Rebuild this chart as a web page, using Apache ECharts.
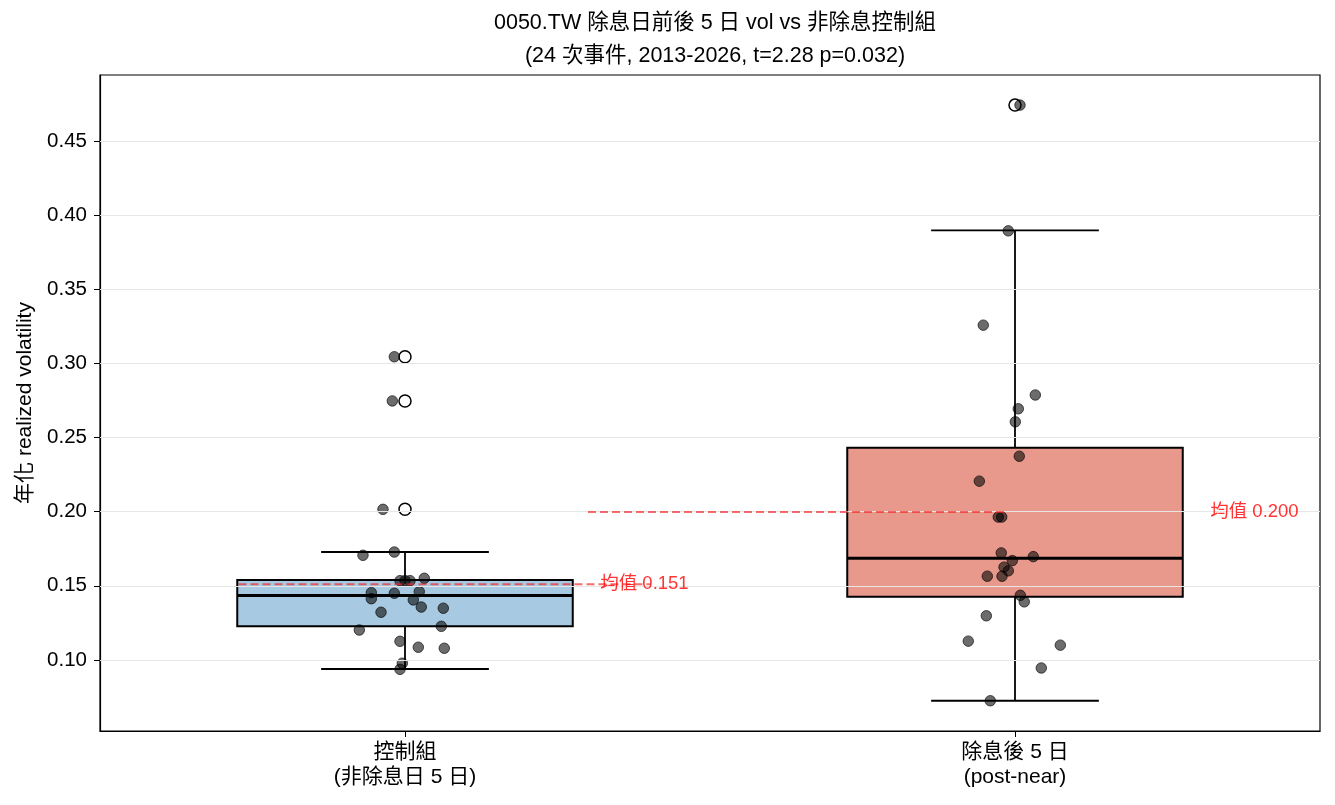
<!DOCTYPE html>
<html>
<head>
<meta charset="utf-8">
<script src="https://cdn.jsdelivr.net/npm/echarts@6/dist/echarts.min.js"></script>
<style>
  html, body { margin: 0; padding: 0; background: #fff; }
  #chart { width: 1335px; height: 805px; }
</style>
</head>
<body>
<div id="chart"></div>
<script>
// groups shown on the x axis
var groups = ['控制組\n(非除息日 5 日)', '除息後 5 日\n(post-near)'];
var groupPos = [1, 2];

// realized vol per event with the jitter x used for the dots
var controlVol = [0.3045, 0.2747, 0.2016, 0.1706, 0.1728, 0.1535, 0.1535, 0.1535, 0.1551, 0.1454, 0.1450, 0.1461,
                  0.1413, 0.1405, 0.1322, 0.1357, 0.1349, 0.1227, 0.1202, 0.1126, 0.1086, 0.1079, 0.0978, 0.0937];
var controlX = [0.9825, 0.9792, 0.9639, 0.9311, 0.9825, 0.9918, 1.0, 1.0082, 1.0316, 0.9448, 0.9825, 1.0234,
                0.9448, 1.0136, 0.9607, 1.0267, 1.0628, 1.0595, 0.9251, 0.9918, 1.0218, 1.0644, 0.9956, 0.9918];

var postVol = [0.4742, 0.3894, 0.3258, 0.2787, 0.2694, 0.2606, 0.2374, 0.2206, 0.1964, 0.1964, 0.1722, 0.1670,
               0.1697, 0.1626, 0.1601, 0.1565, 0.1565, 0.1436, 0.1392, 0.1298, 0.1127, 0.1100, 0.0946, 0.0725];
var postX = [2.0082, 1.989, 1.948, 2.0333, 2.0054, 2.0005, 2.007, 1.9415, 1.9726, 1.9782, 1.9775, 1.9956,
             2.03, 1.982, 1.989, 1.9546, 1.9787, 2.0087, 2.0152, 1.953, 1.9234, 2.0743, 2.0431, 1.9595];

// box stats: [lower whisker, Q1, median, Q3, upper whisker]
var controlBox = [0.0939, 0.1227, 0.1434, 0.1540, 0.1728];
var postBox = [0.0725, 0.1427, 0.1686, 0.2432, 0.3897];

// fliers
var controlOutliers = [0.3045, 0.2747, 0.2016];
var postOutliers = [0.4742];

var boxColors = ['#a7c9e1', '#e8998c'];

// y tick labels
var yTicks = [0.10, 0.15, 0.20, 0.25, 0.30, 0.35, 0.40, 0.45];

function mean(arr) {
    var s = 0;
    arr.forEach(function (v) { s += v; });
    return s / arr.length;
}

var means = [mean(controlVol), mean(postVol)];
// extents of the dashed mean lines, in x data units
var meanSpans = [[0.727, 1.402], [1.30, 1.987]];

var font = '"Liberation Sans", Arial, "Noto Sans CJK TC", sans-serif';

var chart = echarts.init(document.getElementById('chart'));

var boxData = [
    [groupPos[0]].concat(controlBox, [0]),
    [groupPos[1]].concat(postBox, [1])
];

var meanLine = {
    type: 'line',
    xAxisIndex: 1,
    z: 5,
    symbol: 'none',
    silent: true,
    lineStyle: { color: 'rgba(240,40,40,0.68)', width: 2, type: [8, 4] }
};

var option = {
    backgroundColor: '#fff',
    animation: false,
    textStyle: { fontFamily: font },
    title: {
        text: '0050.TW 除息日前後 5 日 vol vs 非除息控制組\n(24 次事件, 2013-2026, t=2.28 p=0.032)',
        left: 710,
        top: 2,
        textAlign: 'center',
        textStyle: {
            fontFamily: font,
            fontSize: 21.5,
            fontWeight: 'normal',
            color: '#000',
            lineHeight: 33
        }
    },
    grid: {
        left: 100,
        right: 15,
        top: 75,
        bottom: 74,
        show: true,
        borderColor: '#000',
        borderWidth: 1.2
    },
    xAxis: [
        {
            type: 'category',
            data: groups,
            boundaryGap: true,
            axisLine: { show: true, lineStyle: { color: '#000', width: 1.2 } },
            axisTick: { show: true, alignWithLabel: true, length: 6, lineStyle: { color: '#000' } },
            axisLabel: { color: '#000', fontSize: 21, lineHeight: 25, margin: 9, fontFamily: font },
            splitLine: { show: false }
        },
        {
            type: 'value',
            min: 0.5,
            max: 2.5,
            show: false
        }
    ],
    yAxis: {
        type: 'value',
        min: 0.0521,
        max: 0.4945,
        name: '年化 realized volatility',
        nameLocation: 'middle',
        nameGap: 64,
        nameRotate: 90,
        nameTextStyle: { color: '#000', fontSize: 21, fontFamily: font },
        axisLine: { show: true, lineStyle: { color: '#000', width: 1.2 } },
        axisTick: { show: true, length: 6, customValues: yTicks, lineStyle: { color: '#000' } },
        axisLabel: {
            color: '#000',
            fontSize: 20.5,
            margin: 13,
            fontFamily: font,
            customValues: yTicks,
            formatter: function (v) { return v.toFixed(2); }
        },
        splitLine: { show: false }
    },
    series: [
        {
            // horizontal grid lines at the y ticks
            name: 'grid',
            type: 'line',
            xAxisIndex: 1,
            z: 1,
            data: [],
            markLine: {
                silent: true,
                symbol: ['none', 'none'],
                label: { show: false },
                lineStyle: { color: '#e6e6e6', width: 1.2, type: 'solid' },
                data: yTicks.map(function (v) { return { yAxis: v }; })
            }
        },
        {
            name: 'box',
            type: 'custom',
            xAxisIndex: 1,
            z: 2,
            data: boxData,
            renderItem: function (params, api) {
                var pos = api.value(0);
                var lo = api.value(1), q1 = api.value(2), med = api.value(3), q3 = api.value(4), hi = api.value(5);
                var c = boxColors[api.value(6)];
                var hw = 0.275, cw = 0.1375;
                var tl = api.coord([pos - hw, q3]);
                var br = api.coord([pos + hw, q1]);
                var p = function (x, y) { return api.coord([x, y]); };
                var ln = function (a, b, w) {
                    return {
                        type: 'line',
                        shape: { x1: a[0], y1: a[1], x2: b[0], y2: b[1] },
                        style: { stroke: '#000', lineWidth: w || 1.8 }
                    };
                };
                return {
                    type: 'group',
                    children: [
                        ln(p(pos, q1), p(pos, lo)),
                        ln(p(pos, q3), p(pos, hi)),
                        ln(p(pos - cw, lo), p(pos + cw, lo)),
                        ln(p(pos - cw, hi), p(pos + cw, hi)),
                        {
                            type: 'rect',
                            shape: { x: tl[0], y: tl[1], width: br[0] - tl[0], height: br[1] - tl[1] },
                            style: { fill: c, stroke: '#000', lineWidth: 2 }
                        },
                        ln(p(pos - hw, med), p(pos + hw, med), 3)
                    ]
                };
            }
        },
        {
            name: 'outliers',
            type: 'scatter',
            xAxisIndex: 1,
            z: 3,
            symbolSize: 12,
            itemStyle: { color: '#fff', borderColor: '#000', borderWidth: 1.5, opacity: 1 },
            data: controlOutliers.map(function (v) { return [groupPos[0], v]; })
                .concat(postOutliers.map(function (v) { return [groupPos[1], v]; }))
        },
        {
            name: 'points',
            type: 'scatter',
            xAxisIndex: 1,
            z: 4,
            symbolSize: 10.5,
            itemStyle: { color: 'rgba(0,0,0,0.72)', borderColor: 'rgba(0,0,0,0.8)', borderWidth: 1 },
            data: controlVol.map(function (v, i) { return [controlX[i], v]; })
                .concat(postVol.map(function (v, i) { return [postX[i], v]; }))
        },
        Object.assign({ name: 'mean control', data: [[meanSpans[0][0], means[0]], [meanSpans[0][1], means[0]]] }, meanLine),
        Object.assign({ name: 'mean post', data: [[meanSpans[1][0], means[1]], [meanSpans[1][1], means[1]]] }, meanLine),
        {
            name: 'mean text',
            type: 'scatter',
            xAxisIndex: 1,
            z: 6,
            symbolSize: 0,
            silent: true,
            label: {
                show: true,
                position: 'right',
                distance: 0,
                color: '#ff0000',
                fontSize: 18.5,
                fontFamily: font,
                formatter: function (p) { return '均值 ' + p.value[1].toFixed(3); }
            },
            data: [[groupPos[0] + 0.32, means[0]], [groupPos[1] + 0.32, means[1]]]
        }
    ]
};

chart.setOption(option);
</script>
</body>
</html>
